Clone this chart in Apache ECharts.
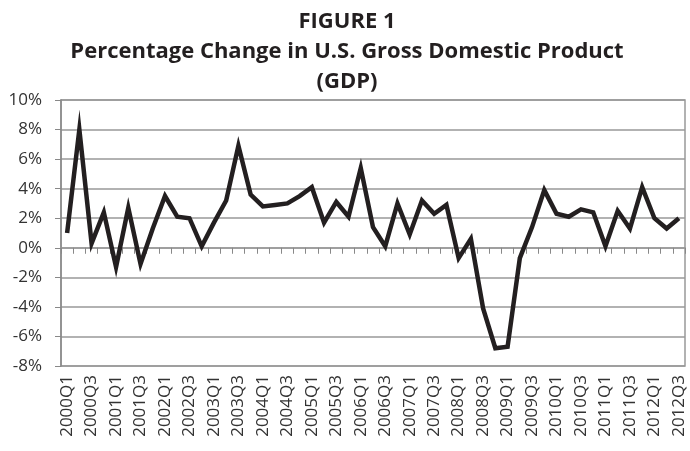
<!DOCTYPE html>
<html>
<head>
<meta charset="utf-8">
<script src="https://cdn.jsdelivr.net/npm/echarts@6/dist/echarts.min.js"></script>
<style>
html,body{margin:0;padding:0;background:#fff;}
#chartbox{width:690px;height:451px;}
</style>
</head>
<body>
<div id="chartbox"></div>
<script>
// quarters 2000Q1 .. 2012Q3
var years = [2000,2001,2002,2003,2004,2005,2006,2007,2008,2009,2010,2011,2012];
var quarters = [];
for (var y = 0; y < years.length; y++) {
    for (var q = 1; q <= 4; q++) {
        if (years[y] == 2012 && q > 3) break;
        quarters.push(years[y] + 'Q' + q);
    }
}

// percentage change in GDP
var gdpChange = [
    1.0, 8.0, 0.3, 2.4,
    -1.3, 2.7, -1.1, 1.3,
    3.5, 2.1, 2.0, 0.1,
    1.7, 3.2, 6.9, 3.6,
    2.8, 2.9, 3.0, 3.5,
    4.1, 1.7, 3.1, 2.1,
    5.4, 1.4, 0.1, 3.0,
    0.9, 3.2, 2.3, 2.9,
    -0.7, 0.6, -4.1, -6.8,
    -6.7, -0.7, 1.4, 3.9,
    2.3, 2.1, 2.6, 2.4,
    0.1, 2.5, 1.3, 4.1,
    2.0, 1.3, 2.0
];

var yMin = -8, yMax = 10, yStep = 2;

var myChart = echarts.init(document.getElementById('chartbox'));
var option = {
    backgroundColor: '#fff',
    animation: false,
    title: {
        text: 'FIGURE 1\nPercentage Change in U.S. Gross Domestic Product\n(GDP)',
        left: 342,
        textAlign: 'center',
        top: 2,
        textStyle: {
            fontFamily: 'Open Sans',
            fontWeight: 'bold',
            fontSize: 22,
            lineHeight: 30,
            color: '#231f20'
        }
    },
    grid: {
        left: 61,
        right: 5,
        top: 100,
        bottom: 85,
        show: true,
        borderColor: '#999',
        borderWidth: 1.5
    },
    xAxis: [{
        type: 'category',
        data: quarters,
        position: 'bottom',
        boundaryGap: true,
        axisLine: { onZero: false, show: false },
        axisTick: { show: false },
        axisLabel: {
            interval: 1,
            rotate: 90,
            margin: 9,
            fontFamily: 'Open Sans',
            fontSize: 17,
            color: '#333'
        }
    }, {
        type: 'category',
        data: quarters,
        position: 'top',
        boundaryGap: true,
        axisLine: { onZero: true, lineStyle: { color: '#999', width: 1.5 } },
        axisTick: { show: true, inside: true, interval: 0, length: 6, lineStyle: { color: '#888', width: 1 } },
        axisLabel: { show: false }
    }],
    yAxis: {
        type: 'value',
        min: yMin,
        max: yMax,
        interval: yStep,
        axisLine: { show: true, lineStyle: { color: '#888', width: 1.5 } },
        axisTick: { show: true, length: 6, lineStyle: { color: '#888' } },
        splitLine: { lineStyle: { color: '#999', width: 1.5 } },
        axisLabel: {
            formatter: '{value}%',
            margin: 19,
            fontFamily: 'Open Sans',
            fontSize: 17,
            color: '#333'
        }
    },
    series: [{
        type: 'line',
        data: gdpChange,
        xAxisIndex: 0,
        symbol: 'none',
        lineStyle: { color: '#231f20', width: 4.5, join: 'miter' }
    }]
};
myChart.setOption(option);
window.onresize = myChart.resize;
</script>
</body>
</html>
